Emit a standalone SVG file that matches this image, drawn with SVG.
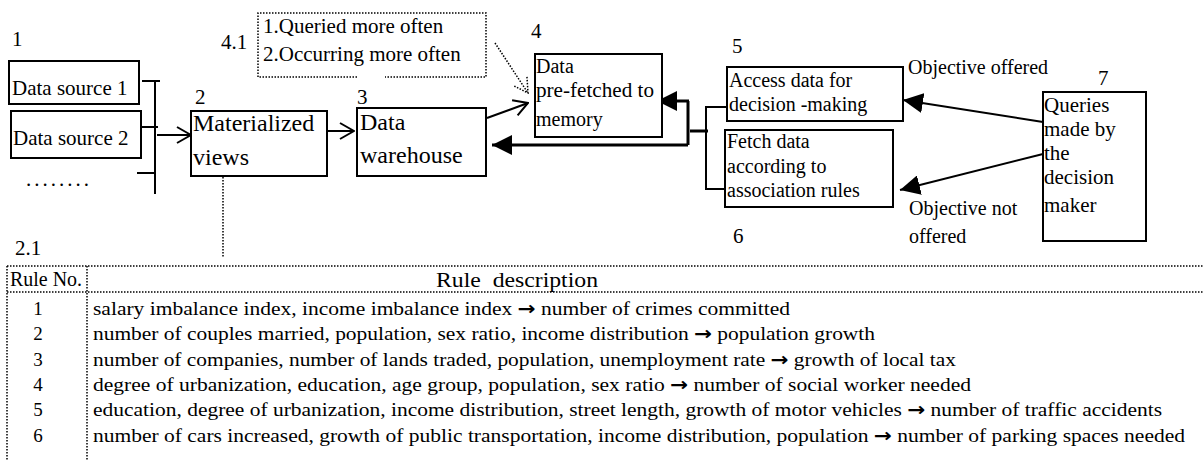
<svg xmlns="http://www.w3.org/2000/svg" width="1204" height="461" viewBox="0 0 1204 461">
<style>
text{font-family:"Liberation Serif","Times New Roman",serif;fill:#000}
.t21{font-size:21px}
.t20{font-size:20px}
.t24{font-size:24px}
.t19{font-size:19px}
.box{fill:#fff;stroke:#000;stroke-width:2}
.ln{fill:none;stroke:#000;stroke-width:2}
.thk{fill:none;stroke:#000;stroke-width:3}
.dot{fill:none;stroke:#000;stroke-width:1.5;stroke-dasharray:1.5 1.5}
.arr{font-family:"DejaVu Sans",sans-serif;font-weight:bold}
</style>
<defs>
<marker id="open" viewBox="0 0 16 18" refX="15" refY="9" markerWidth="16" markerHeight="18" orient="auto" markerUnits="userSpaceOnUse">
<path d="M1,1 L15,9 L1,17" fill="none" stroke="#000" stroke-width="2"/>
</marker>
<marker id="opendot" viewBox="0 0 16 18" refX="15" refY="9" markerWidth="16" markerHeight="18" orient="auto" markerUnits="userSpaceOnUse">
<path d="M1,1 L15,9 L1,17" fill="none" stroke="#000" stroke-width="1.5" stroke-dasharray="1.5 1.5"/>
</marker>
<marker id="fill" viewBox="0 0 20 20" refX="20" refY="10" markerWidth="20" markerHeight="20" orient="auto" markerUnits="userSpaceOnUse">
<path d="M0,0 L20,10 L0,20 Z" fill="#000"/>
</marker>
</defs>

<g id="connectors">
<line class="ln" x1="155" y1="81" x2="155" y2="194"/>
<line class="ln" x1="142" y1="81" x2="160" y2="81"/>
<line class="ln" x1="141" y1="127" x2="158" y2="127"/>
<line class="ln" x1="137" y1="173" x2="155" y2="173"/>
<line class="ln" x1="157" y1="135" x2="191" y2="135" marker-end="url(#open)"/>
<line class="ln" x1="325" y1="131" x2="354" y2="131" marker-end="url(#open)"/>
<line class="ln" x1="487" y1="118" x2="528" y2="103" marker-end="url(#open)"/>
<line class="dot" x1="495" y1="43" x2="528" y2="93" marker-end="url(#opendot)"/>
<line class="dot" x1="223" y1="177" x2="223" y2="258"/>
<polyline class="thk" points="690,131 708,131"/>
<polyline class="thk" points="688,101 688,145"/>
<line class="thk" x1="688" y1="145" x2="492" y2="145" marker-end="url(#fill)"/>
<line class="thk" x1="689" y1="101" x2="657" y2="101" marker-end="url(#fill)"/>
<polyline class="ln" points="727,107 706,107 706,189 725,189"/>
<line class="ln" x1="1043" y1="122" x2="903" y2="100" marker-end="url(#fill)"/>
<line class="ln" x1="1043" y1="154" x2="900" y2="190" marker-end="url(#fill)"/>
</g>

<g id="n1">
<text class="t21" x="12" y="46">1</text>
</g>
<g id="ds1">
<rect class="box" x="9" y="61" width="130" height="43"/>
<text class="t21" x="12" y="95">Data source 1</text>
</g>
<g id="ds2">
<rect class="box" x="11" y="111" width="130" height="47"/>
<text class="t21" x="13" y="145">Data source 2</text>
</g>
<g id="more">
<text class="t21" x="26" y="186" letter-spacing="3">........</text>
</g>

<g id="n2">
<text class="t21" x="195" y="104">2</text>
<rect class="box" x="191" y="111" width="136" height="65"/>
<text class="t24" x="193" y="131">Materialized</text>
<text class="t24" x="193" y="165">views</text>
</g>

<g id="n3">
<text class="t21" x="357" y="104">3</text>
<rect class="box" x="357" y="108" width="129" height="68"/>
<text class="t24" x="360" y="130">Data</text>
<text class="t24" x="360" y="163">warehouse</text>
</g>

<g id="n41">
<text class="t21" x="221" y="49">4.1</text>
<path class="dot" d="M357,77 L258,77 L258,13 L486,13 L486,77 L385,77"/>
<text class="t21" x="263" y="33">1.Queried more often</text>
<text class="t21" x="263" y="61">2.Occurring more often</text>
</g>

<g id="n4">
<text class="t21" x="531" y="38">4</text>
<rect class="box" x="535" y="54" width="127" height="83"/>
<text class="t20" x="536" y="73">Data</text>
<text class="t20" x="536" y="97" textLength="118" lengthAdjust="spacingAndGlyphs">pre-fetched to</text>
<text class="t20" x="536" y="126">memory</text>
</g>

<g id="n5">
<text class="t21" x="732" y="53">5</text>
<rect class="box" x="727" y="67" width="176" height="54"/>
<text class="t20" x="729" y="87">Access data for</text>
<text class="t20" x="729" y="111">decision -making</text>
</g>

<g id="n6">
<rect class="box" x="725" y="130" width="168" height="77"/>
<text class="t20" x="727" y="148">Fetch data</text>
<text class="t20" x="727" y="173">according to</text>
<text class="t20" x="727" y="197">association rules</text>
<text class="t21" x="733" y="243">6</text>
</g>

<g id="labels">
<text class="t20" x="908" y="74">Objective offered</text>
<text class="t20" x="909" y="215">Objective not</text>
<text class="t20" x="909" y="243">offered</text>
</g>

<g id="n7">
<text class="t21" x="1098" y="85">7</text>
<rect class="box" x="1043" y="92" width="103" height="149"/>
<text class="t21" x="1044" y="112">Queries</text>
<text class="t21" x="1044" y="136">made by</text>
<text class="t21" x="1044" y="160">the</text>
<text class="t21" x="1044" y="184">decision</text>
<text class="t21" x="1044" y="212">maker</text>
</g>

<g id="table">
<text class="t21" x="15" y="255">2.1</text>
<line class="dot" x1="7" y1="266" x2="1204" y2="266"/>
<line class="dot" x1="7" y1="292" x2="1204" y2="292"/>
<line class="dot" x1="7" y1="266" x2="7" y2="461"/>
<line class="dot" x1="87" y1="266" x2="87" y2="461"/>
<text x="10" y="286" font-size="20" textLength="72" lengthAdjust="spacingAndGlyphs">Rule No.</text>
<text x="436" y="287" font-size="22" textLength="162" lengthAdjust="spacingAndGlyphs" xml:space="preserve">Rule  description</text>
<g text-anchor="middle" class="t19">
<text x="38" y="315">1</text>
<text x="38" y="340">2</text>
<text x="38" y="366">3</text>
<text x="38" y="391">4</text>
<text x="38" y="416">5</text>
<text x="38" y="442">6</text>
</g>
<g class="t19">
<text x="93" y="315" textLength="697" lengthAdjust="spacingAndGlyphs">salary imbalance index, income imbalance index <tspan class="arr">→</tspan> number of crimes committed</text>
<text x="93" y="340" textLength="782" lengthAdjust="spacingAndGlyphs">number of couples married, population, sex ratio, income distribution <tspan class="arr">→</tspan> population growth</text>
<text x="93" y="366" textLength="863" lengthAdjust="spacingAndGlyphs">number of companies, number of lands traded, population, unemployment rate <tspan class="arr">→</tspan> growth of local tax</text>
<text x="93" y="391" textLength="878" lengthAdjust="spacingAndGlyphs">degree of urbanization, education, age group, population, sex ratio <tspan class="arr">→</tspan> number of social worker needed</text>
<text x="93" y="416" textLength="1069" lengthAdjust="spacingAndGlyphs">education, degree of urbanization, income distribution, street length, growth of motor vehicles <tspan class="arr">→</tspan> number of traffic accidents</text>
<text x="93" y="442" textLength="1092" lengthAdjust="spacingAndGlyphs">number of cars increased, growth of public transportation, income distribution, population <tspan class="arr">→</tspan> number of  parking spaces needed</text>
</g>
</g>
</svg>
